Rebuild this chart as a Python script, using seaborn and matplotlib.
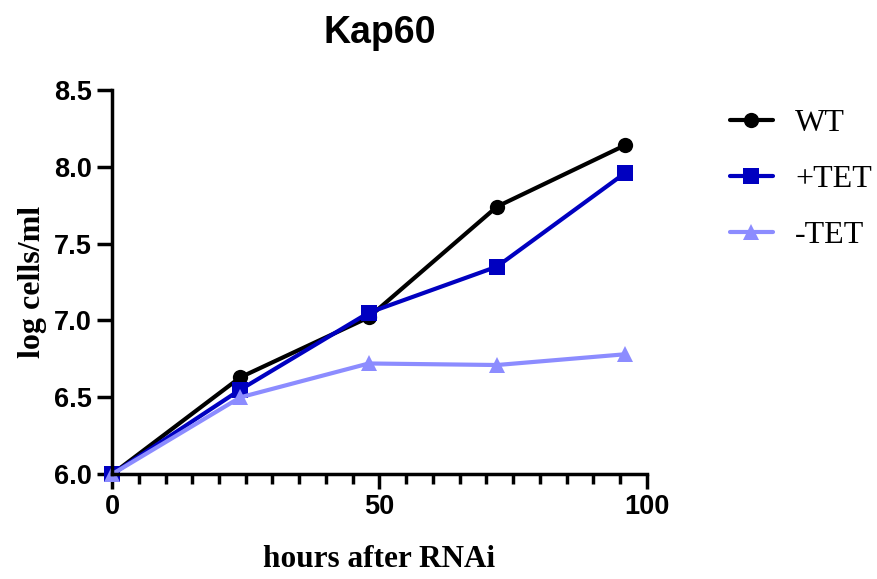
import numpy as np
import pandas as pd
import matplotlib.pyplot as plt
import seaborn as sns
from matplotlib.ticker import MultipleLocator

sns.set_theme(style="ticks")
plt.rcParams['font.family'] = ['Liberation Sans', 'DejaVu Sans']
plt.rcParams['text.color'] = 'black'
plt.rcParams['axes.labelcolor'] = 'black'
plt.rcParams['xtick.color'] = 'black'
plt.rcParams['ytick.color'] = 'black'

# данные
hours = [0, 24, 48, 72, 96]
wt = [6.00, 6.63, 7.02, 7.74, 8.14]
plus_tet = [6.00, 6.55, 7.05, 7.35, 7.96]
minus_tet = [6.00, 6.50, 6.72, 6.71, 6.78]
series_names = ["WT", "+TET", "-TET"]

df = pd.DataFrame({
    "hours": hours * 3,
    "value": wt + plus_tet + minus_tet,
    "group": [n for n in series_names for _ in hours],
})

palette = {"WT": "#000000", "+TET": "#0000C0", "-TET": "#8C8CFF"}
markers = {"WT": "o", "+TET": "s", "-TET": "^"}

fig = plt.figure(figsize=(8.78, 5.79), dpi=100)
ax = fig.add_axes([0.1276, 0.181, 0.609, 0.664])

sns.lineplot(data=df, x="hours", y="value", hue="group", style="group",
             palette=palette, markers=markers, dashes=False, linewidth=3,
             markersize=11, markeredgewidth=0, ax=ax, clip_on=False)

ax.set_xlim(0, 100)
ax.set_ylim(6.0, 8.5)
ax.xaxis.set_major_locator(MultipleLocator(50))
ax.xaxis.set_minor_locator(MultipleLocator(5))
ax.yaxis.set_major_locator(MultipleLocator(0.5))
ax.yaxis.set_major_formatter(plt.FormatStrFormatter('%.1f'))

for s in ["top", "right"]:
    ax.spines[s].set_visible(False)
for s in ["left", "bottom"]:
    ax.spines[s].set_linewidth(2.5)
    ax.spines[s].set_color("black")

ax.tick_params(axis="both", which="major", length=10.5, width=2.5, color="black",
               labelsize=19.5, pad=4)
ax.tick_params(axis="x", which="minor", length=7, width=2.5, color="black")
for lab in ax.get_xticklabels() + ax.get_yticklabels():
    lab.set_fontweight("bold")

ax.set_xlabel("hours after RNAi", family="Liberation Serif", fontweight="bold",
              fontsize=22.5, labelpad=18)
ax.set_ylabel("log cells/ml", family="Liberation Serif", fontweight="bold",
              fontsize=23, labelpad=5)
ax.set_title("Kap60", fontsize=27, fontweight="bold", pad=34)

leg = ax.legend(loc="upper left", bbox_to_anchor=(1.155, 0.951), frameon=False,
                prop={"family": "Liberation Serif", "size": 23},
                borderaxespad=0, borderpad=0,
                handlelength=1.35, handletextpad=0.7, labelspacing=0.83)
for h in leg.legend_handles:
    h.set_markersize(11)
    h.set_linewidth(3)

plt.savefig("out.png", dpi=100)
plt.close()
